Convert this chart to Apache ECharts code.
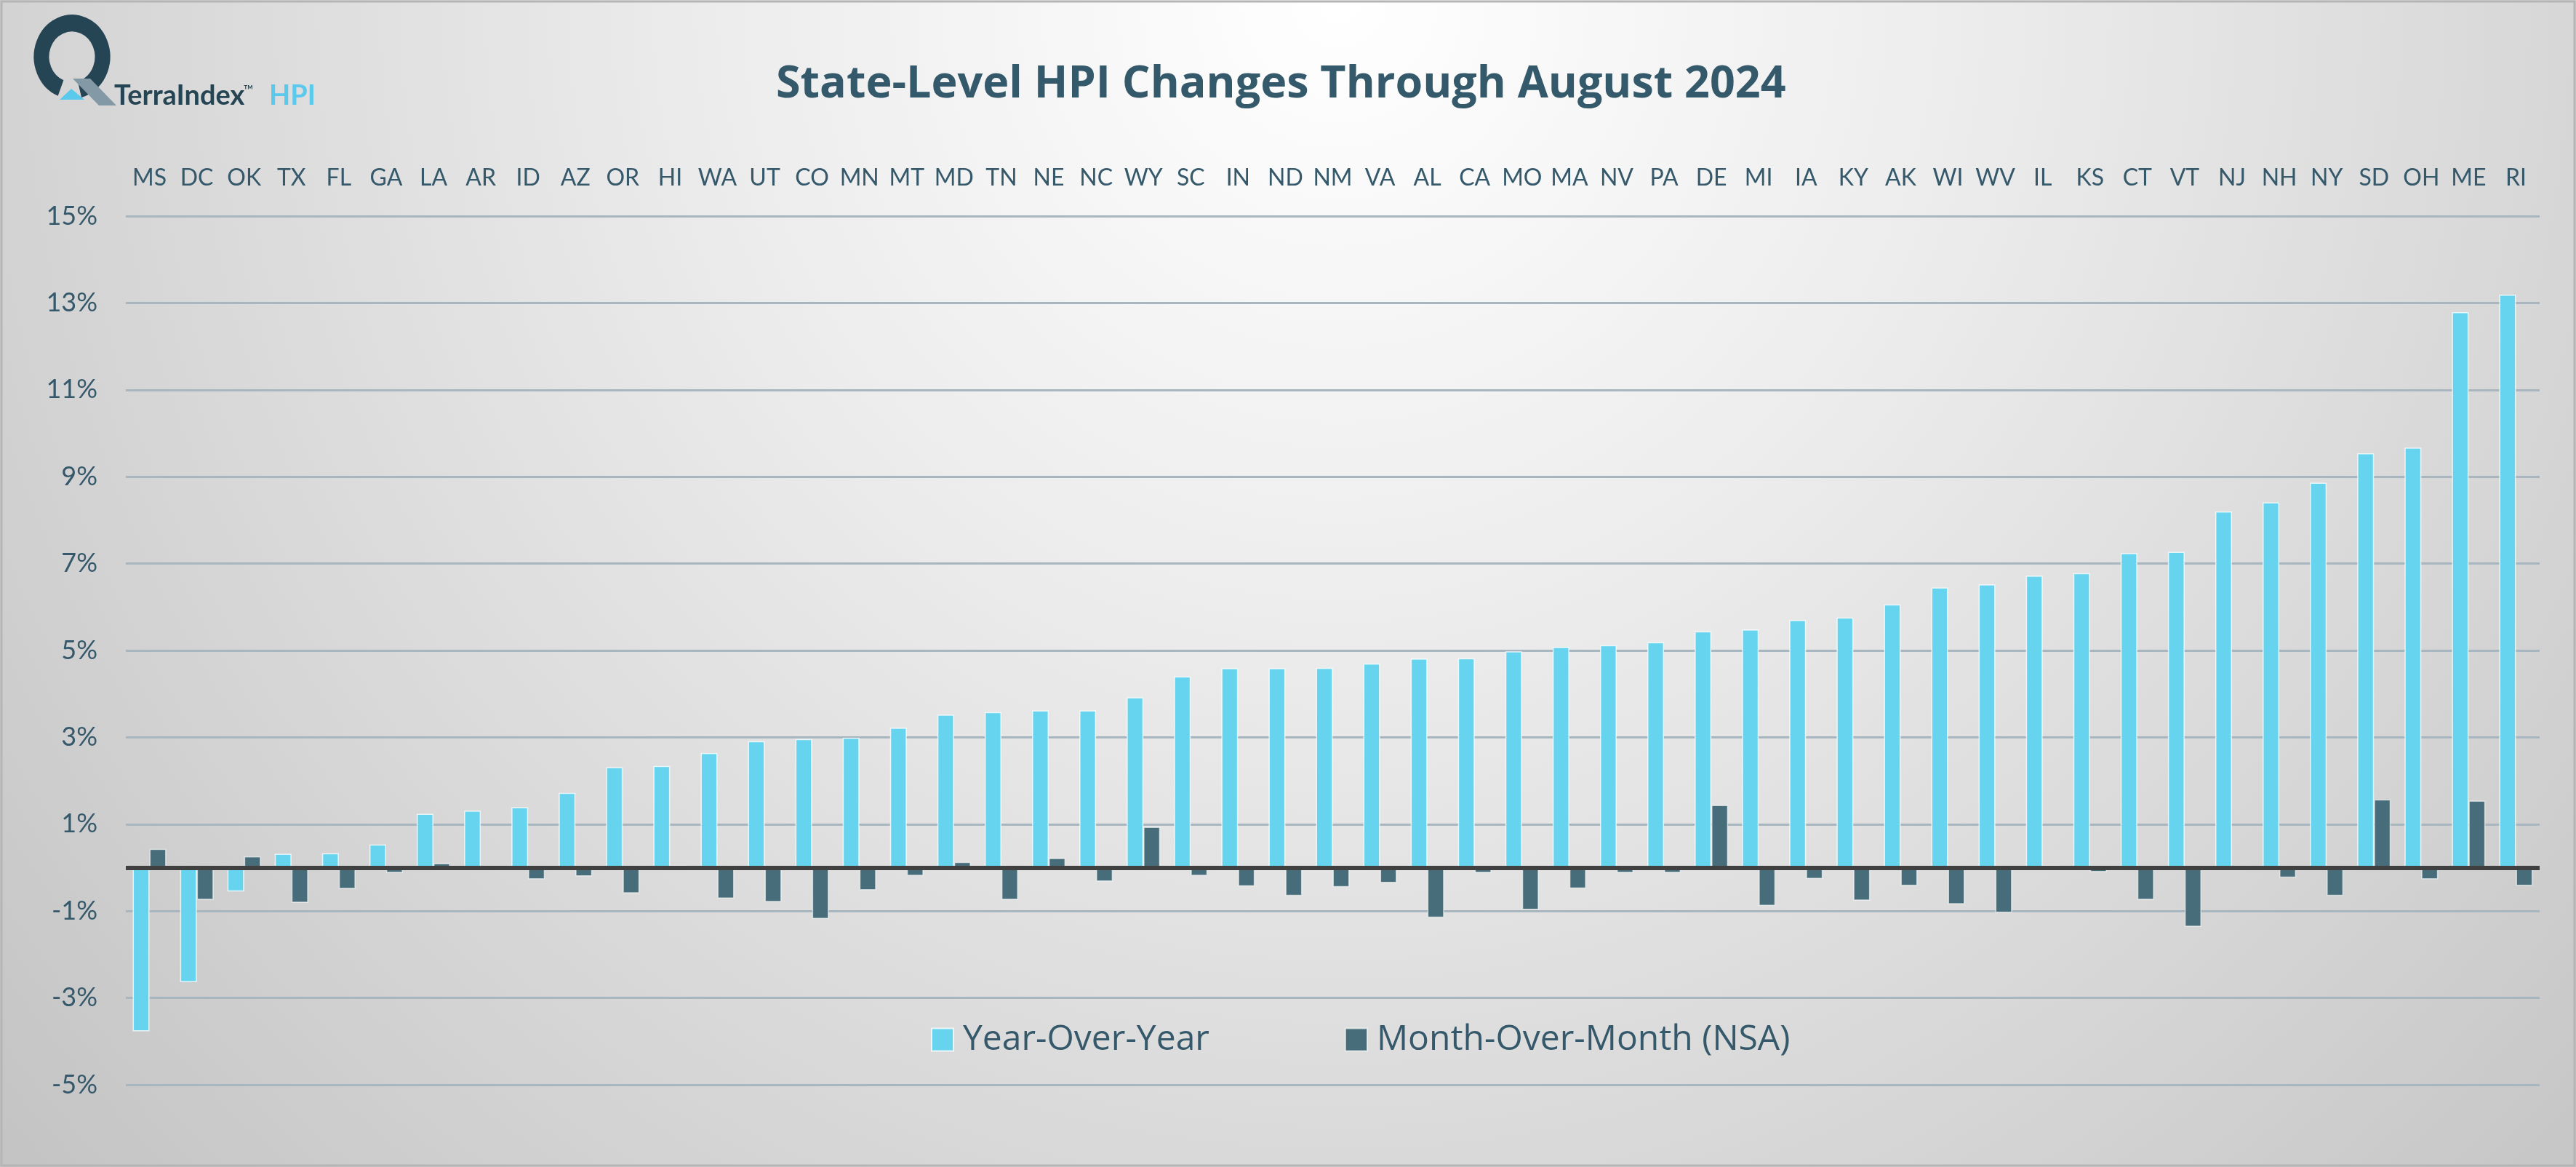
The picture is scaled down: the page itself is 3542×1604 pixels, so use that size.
<!DOCTYPE html>
<html>
<head>
<meta charset="utf-8">
<script src="https://cdn.jsdelivr.net/npm/echarts@6/dist/echarts.min.js"></script>
<style>
html,body{margin:0;padding:0;}
#chart{width:3542px;height:1604px;}
</style>
</head>
<body>
<div id="chart"></div>
<script>
const states = ['MS','DC','OK','TX','FL','GA','LA','AR','ID','AZ','OR','HI','WA','UT','CO','MN','MT','MD','TN','NE','NC','WY','SC','IN','ND','NM','VA','AL','CA','MO','MA','NV','PA','DE','MI','IA','KY','AK','WI','WV','IL','KS','CT','VT','NJ','NH','NY','SD','OH','ME','RI'];
const yoy = [-3.77,-2.64,-0.55,0.32,0.33,0.53,1.24,1.31,1.39,1.72,
  2.31,2.34,2.64,2.91,2.96,2.99,3.22,3.52,3.58,3.62,
  3.62,3.92,4.40,4.59,4.59,4.60,4.70,4.81,4.82,4.98,
  5.08,5.12,5.19,5.44,5.48,5.70,5.76,6.06,6.45,6.52,
  6.72,6.78,7.24,7.27,8.20,8.41,8.86,9.54,9.67,12.79,
  13.19];
const mom = [0.43,-0.74,0.26,-0.81,-0.49,-0.12,0.10,-0.03,-0.27,-0.20,
  -0.59,0.05,-0.71,-0.79,-1.18,-0.52,-0.19,0.13,-0.74,0.22,
  -0.32,0.94,-0.19,-0.43,-0.65,-0.45,-0.35,-1.15,-0.12,-0.97,
  -0.48,-0.12,-0.12,1.44,-0.88,-0.26,-0.76,-0.42,-0.84,-1.04,
  0.05,-0.10,-0.74,-1.36,0.00,-0.23,-0.65,1.57,-0.27,1.54,
  -0.42];
const yTickLabels = ['-5%','-3%','-1%','1%','3%','5%','7%','9%','11%','13%','15%'];
const seriesNames = ['Year-Over-Year','Month-Over-Month (NSA)'];
const titleText = 'State-Level HPI Changes Through August 2024';

const textColor = '#35596b';
const chart = echarts.init(document.getElementById('chart'));
chart.setOption({
  animation: false,
  backgroundColor: {
    type: 'radial', x: 0.52, y: 0.0, r: 1.55,
    colorStops: [{offset: 0, color: '#ffffff'}, {offset: 0.35, color: '#ececec'}, {offset: 1, color: '#c2c2c2'}]
  },
  title: {
    text: titleText, left: 1062, top: 81,
    textStyle: {fontFamily: 'Open Sans', fontWeight: 'bold', fontSize: 61, color: '#34596b'}
  },
  legend: {
    left: 1280, top: 1405, itemWidth: 30, itemHeight: 31, itemGap: 186, icon: 'rect',
    padding: 0,
    data: seriesNames,
    textStyle: {fontFamily: 'Open Sans', fontSize: 48, color: textColor, padding: [0,0,0,8]}
  },
  grid: {left: 173, right: 50, top: 297, bottom: 113},
  xAxis: {
    type: 'category', data: states, position: 'top',
    axisLine: {show: false}, axisTick: {show: false},
    axisLabel: {interval: 0, margin: 36, fontFamily: 'Lato', fontSize: 32, color: textColor}
  },
  yAxis: [
    {type: 'value', min: -5, max: 15, show: false, splitLine: {show: false}},
    {type: 'value', min: 0, max: 20, interval: 2, position: 'left',
     axisLine: {show: false}, axisTick: {show: false},
     axisLabel: {margin: 39, fontFamily: 'Lato', fontSize: 36, color: textColor,
       formatter: function (v) { return yTickLabels[Math.round(v / 2)]; }},
     splitLine: {lineStyle: {color: '#a8b7bf', width: 3}}}
  ],
  series: [
    {name: seriesNames[0], type: 'bar', yAxisIndex: 0, data: yoy, barWidth: 23, barGap: '0%',
     itemStyle: {color: '#66d4ee', borderColor: 'rgba(255,255,255,0.75)', borderWidth: 1.5},
     markLine: {silent: true, symbol: 'none', label: {show: false},
       lineStyle: {color: '#404040', width: 6, type: 'solid'}, data: [{yAxis: 0}], z: 10}},
    {name: seriesNames[1], type: 'bar', yAxisIndex: 0, data: mom, barWidth: 23,
     itemStyle: {color: '#466d79', borderColor: 'rgba(255,255,255,0.6)', borderWidth: 1.5}}
  ],
  graphic: [
    {type: 'rect', shape: {x: 2, y: 2, width: 3538, height: 1600}, style: {fill: 'none', stroke: '#b5b5b5', lineWidth: 3}, silent: true},
    {type: 'arc', shape: {cx: 99, cy: 78, r: 42, startAngle: Math.PI * 0.62, endAngle: Math.PI * 0.42}, scaleY: 1.1, originY: 78,
     style: {fill: 'none', stroke: '#254555', lineWidth: 21}, silent: true},
    {type: 'polygon', shape: {points: [[100,108],[124,108],[160,145],[136,145]]}, style: {fill: '#8499a6'}, silent: true},
    {type: 'polygon', shape: {points: [[82,137],[98,122],[116,137]]}, style: {fill: '#5bc9ec'}, silent: true},
    {type: 'text', left: 157, top: 113, style: {text: 'TerraIndex', font: 'bold 38px Lato', fill: '#254555'}, silent: true},
    {type: 'text', left: 335, top: 115, style: {text: '™', font: '18px Lato', fill: '#254555'}, silent: true},
    {type: 'text', left: 370, top: 113, style: {text: 'HPI', font: 'bold 38px Lato', fill: '#5bc9ec'}, silent: true}
  ]
});
</script>
</body>
</html>
